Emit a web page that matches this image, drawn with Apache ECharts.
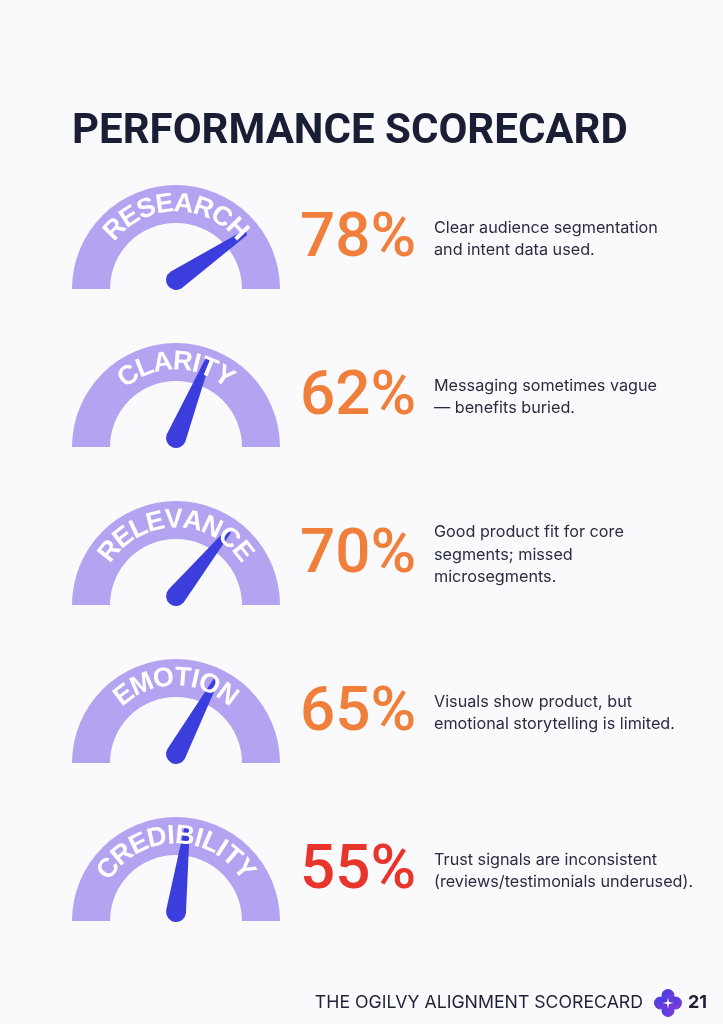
<!DOCTYPE html>
<html><head><meta charset="utf-8">
<script src="https://cdn.jsdelivr.net/npm/echarts@6/dist/echarts.min.js"></script>
<style>html,body{margin:0;padding:0;background:#fafafc}#c{width:723px;height:1024px}</style>
</head><body><div id="c"></div>
<script>
// ---- data ----
const categories = ['RESEARCH', 'CLARITY', 'RELEVANCE', 'EMOTION', 'CREDIBILITY'];
const scores = [78, 62, 70, 65, 55];
const descriptions = [
  'Clear audience segmentation\nand intent data used.',
  'Messaging sometimes vague\n— benefits buried.',
  'Good product fit for core\nsegments; missed\nmicrosegments.',
  'Visuals show product, but\nemotional storytelling is limited.',
  'Trust signals are inconsistent\n(reviews/testimonials underused).'
];
const chartTitle = 'PERFORMANCE SCORECARD';
const footerText = 'THE OGILVY ALIGNMENT SCORECARD';
const pageNumber = '21';

// ---- layout ----
const CX = 176, CY0 = 289, STEP = 158, R = 104, BAND = 38;
const ARC_COLOR = '#b3a3f1', NEEDLE_COLOR = '#3b3edc';
const LABEL_FONT = 'Liberation Sans', LABEL_SIZE = 27, LABEL_R = 85, LABEL_SP = 0.5;
const NEEDLE = 'path://M-10,0 L-2.8,-83 Q0,-85.5 2.8,-83 L10,0 A10,10 0 0,1 -10,0 Z';

const chart = echarts.init(document.getElementById('c'), null, {renderer: 'canvas'});
const mctx = document.createElement('canvas').getContext('2d');
mctx.font = 'bold ' + LABEL_SIZE + 'px "' + LABEL_FONT + '"';

const series = [];
const graphics = [];
categories.forEach((cat, i) => {
  const cy = CY0 + STEP * i;
  const hidden = {axisTick: {show: false}, splitLine: {show: false}, axisLabel: {show: false}, title: {show: false}};
  series.push(Object.assign({
    type: 'gauge', center: [CX, cy], radius: R, startAngle: 180, endAngle: 0, min: 0, max: 100,
    silent: true, animation: false, z: 1,
    axisLine: {lineStyle: {width: BAND, color: [[1, ARC_COLOR]]}},
    pointer: {show: false}, anchor: {show: false}, progress: {show: false}, detail: {show: false},
    data: [{value: 0}]
  }, hidden));
  series.push(Object.assign({
    type: 'gauge', center: [CX, cy - 9], radius: R, startAngle: 198, endAngle: -12, min: 0, max: 100,
    animation: false, z: 3,
    axisLine: {show: false},
    pointer: {show: true, icon: NEEDLE, width: 20, length: 95, offsetCenter: [0, 10], itemStyle: {color: NEEDLE_COLOR}},
    anchor: {show: false}, progress: {show: false},
    detail: {
      show: true, offsetCenter: [182, -40], formatter: '{value}%',
      color: scores[i] < 60 ? '#e8352b' : '#f07f3c',
      fontSize: 62, fontFamily: 'Roboto', fontWeight: 500
    },
    data: [{value: scores[i], name: cat}]
  }, hidden));

  // curved label letters
  const chars = cat.split('');
  const widths = chars.map(ch => mctx.measureText(ch).width + LABEL_SP);
  const total = widths.reduce((a, b) => a + b, 0) - LABEL_SP;
  let s = -total / 2;
  chars.forEach((ch, k) => {
    const mid = s + (widths[k] - LABEL_SP) / 2;
    s += widths[k];
    const phi = mid / LABEL_R;
    graphics.push({
      type: 'text', z: 100,
      x: CX + LABEL_R * Math.sin(phi), y: cy - LABEL_R * Math.cos(phi),
      rotation: -phi,
      style: {text: ch, fill: '#ffffff', fontFamily: LABEL_FONT, fontWeight: 'bold', fontSize: LABEL_SIZE,
              align: 'center', verticalAlign: 'middle'}
    });
  });

  // description
  graphics.push({
    type: 'text', z: 100, x: 434, y: cy - 50,
    style: {text: descriptions[i], fill: '#2a2c40', fontFamily: 'Inter', fontSize: 16.2, lineHeight: 22.5,
            align: 'left', verticalAlign: 'middle'}
  });
});

// title
graphics.push({
  type: 'text', z: 100, x: 72, y: 132,
  style: {text: chartTitle, fill: '#1a1e34', fontFamily: 'Roboto', fontWeight: 'bold', fontSize: 42,
          align: 'left', verticalAlign: 'middle'}
});
// footer
graphics.push({
  type: 'text', z: 100, x: 643, y: 1003,
  style: {text: footerText, fill: '#1f2236', fontFamily: 'Inter', fontSize: 17.7,
          align: 'right', verticalAlign: 'middle'}
});
graphics.push({
  type: 'text', z: 100, x: 688, y: 1003,
  style: {text: pageNumber, fill: '#1f2236', fontFamily: 'Inter', fontWeight: 'bold', fontSize: 18,
          align: 'left', verticalAlign: 'middle'}
});
// logo
const logoGrad = new echarts.graphic.LinearGradient(0, 0, 1, 1, [
  {offset: 0, color: '#3a3fe2'}, {offset: 1, color: '#8a3ad8'}
]);
const LX = 668, LY = 1003;
[[0, -7.5], [0, 7.5], [-7.5, 0], [7.5, 0], [0, 0]].forEach(o => {
  graphics.push({type: 'circle', z: 100, shape: {cx: LX + o[0], cy: LY + o[1], r: o[0] === 0 && o[1] === 0 ? 6.5 : 6.5},
                 style: {fill: logoGrad}});
});
const starPts = [];
for (let k = 0; k < 8; k++) {
  const a = k * Math.PI / 4 - Math.PI / 2, rr = k % 2 === 0 ? 5.5 : 1.4;
  starPts.push([LX + rr * Math.cos(a), LY + rr * Math.sin(a)]);
}
graphics.push({type: 'polygon', z: 101, shape: {points: starPts}, style: {fill: '#ffffff'}});

chart.setOption({
  backgroundColor: '#fafafc',
  animation: false,
  series: series,
  graphic: {elements: graphics}
});
</script>
</body></html>
